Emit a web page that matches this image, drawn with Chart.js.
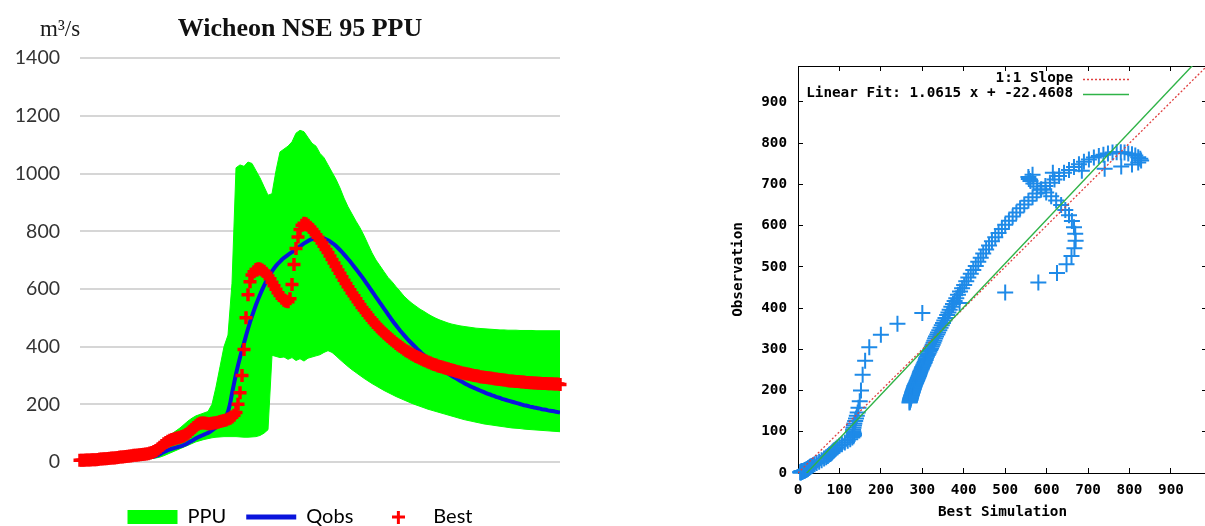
<!DOCTYPE html>
<html>
<head>
<meta charset="utf-8">
<title>Wicheon NSE 95 PPU</title>
<script src="https://cdn.jsdelivr.net/npm/chart.js@4.4.1/dist/chart.umd.min.js"></script>
<style>
    html, body { margin: 0; padding: 0; background: #fff; width: 1205px; height: 526px; overflow: hidden; }
    #hydro { position: absolute; left: 0; top: 0; }
    #scatter { position: absolute; left: 700px; top: 0; }
</style>
</head>
<body>
<canvas id="hydro" width="600" height="537"></canvas>
<canvas id="scatter" width="525" height="526"></canvas>
<script>
// Hydrograph, one value per time step (m3/s)
const bestSim = [
    6, 6, 6, 7, 7, 7, 8, 8, 8, 9,
    10, 10, 11, 11, 12, 13, 14, 14, 15, 16,
    17, 17, 18, 19, 20, 21, 22, 23, 23, 24,
    25, 26, 27, 28, 29, 31, 33, 36, 40, 45,
    51, 57, 63, 68, 72, 75, 78, 80, 82, 84,
    86, 88, 91, 95, 100, 106, 113, 120, 126, 131,
    134, 135, 135, 134, 133, 133, 134, 135, 136, 138,
    140, 142, 144, 146, 149, 152, 156, 162, 172, 200,
    240, 300, 390, 500, 580, 625, 648, 660, 667, 670,
    669, 666, 661, 654, 645, 635, 623, 611, 599, 587,
    577, 568, 561, 557, 556, 566, 615, 685, 740, 780,
    806, 821, 828, 826, 821, 814, 806, 797, 788, 779,
    769, 759, 748, 737, 726, 714, 702, 690, 678, 666,
    654, 642, 630, 619, 608, 597, 586, 576, 566, 556,
    546, 536, 527, 518, 509, 500, 492, 484, 476, 468,
    461, 454, 447, 441, 435, 429, 423, 417, 411, 406,
    401, 396, 391, 386, 382, 378, 374, 370, 366, 363,
    360, 356, 353, 350, 347, 344, 341, 338, 336, 333,
    331, 329, 327, 325, 323, 321, 319, 317, 315, 313,
    311, 309, 308, 306, 305, 303, 302, 300, 299, 298,
    296, 295, 294, 293, 292, 291, 290, 289, 288, 287,
    286, 285, 284, 283, 282, 281, 281, 280, 279, 279,
    278, 277, 277, 276, 276, 275, 275, 274, 274, 273,
    273, 272, 272, 272, 271, 271, 271, 270, 270, 270,
    269
];
const qObs = [
    2, 2, 2, 2, 2, 3, 3, 3, 3, 3,
    3, 4, 4, 4, 4, 5, 5, 5, 6, 6,
    6, 7, 7, 8, 8, 9, 9, 10, 10, 11,
    12, 12, 13, 14, 15, 16, 17, 19, 21, 24,
    27, 31, 35, 38, 41, 44, 46, 48, 50, 52,
    54, 56, 59, 62, 66, 70, 74, 78, 82, 86,
    89, 92, 95, 98, 101, 105, 110, 115, 120, 126,
    132, 139, 147, 158, 174, 200, 238, 272, 305, 335,
    362, 388, 412, 438, 462, 485, 506, 526, 545, 563,
    580, 596, 611, 625, 638, 650, 661, 671, 680, 688,
    695, 702, 708, 713, 718, 723, 728, 733, 738, 743,
    748, 753, 758, 762, 766, 770, 773, 775, 777, 778,
    778, 777, 775, 772, 769, 765, 760, 755, 749, 742,
    735, 728, 720, 712, 704, 696, 687, 678, 669, 660,
    651, 642, 632, 622, 612, 602, 592, 582, 572, 562,
    552, 542, 532, 522, 512, 502, 492, 483, 474, 465,
    456, 448, 440, 432, 424, 417, 410, 403, 396, 389,
    383, 376, 370, 364, 358, 352, 346, 341, 336, 331,
    326, 321, 316, 311, 307, 302, 298, 294, 290, 286,
    282, 278, 274, 270, 267, 263, 260, 257, 254, 251,
    248, 245, 242, 239, 236, 234, 231, 229, 226, 224,
    222, 219, 217, 215, 213, 211, 209, 207, 205, 203,
    201, 199, 197, 196, 194, 192, 191, 189, 188, 186,
    185, 183, 182, 181, 179, 178, 177, 176, 174, 173,
    171
];

// 95PPU band, one value every PPU_STEP time steps
const PPU_STEP = 2;
const ppuUpper = [
    2, 2, 3, 3, 4, 5, 6, 7, 8, 10,
    12, 13, 15, 17, 20, 23, 27, 32, 37, 45,
    60, 72, 85, 98, 108, 118, 130, 142, 152, 160,
    165, 170, 175, 200, 260, 330, 400, 440, 620, 1020,
    1030, 1025, 1040, 1035, 1010, 985, 955, 925, 930, 1010,
    1075, 1085, 1095, 1110, 1140, 1150, 1145, 1125, 1105, 1095,
    1070, 1055, 1030, 1005, 980, 950, 915, 885, 860, 835,
    812, 785, 755, 725, 700, 680, 660, 640, 625, 608,
    592, 575, 562, 550, 540, 530, 522, 513, 505, 498,
    492, 487, 482, 478, 475, 472, 470, 468, 466, 464,
    463, 462, 461, 460, 459, 458, 458, 457, 457, 457,
    456, 456, 456, 456, 455, 455, 455, 455, 455, 455,
    455
];
const ppuLower = [
    1, 1, 1, 2, 2, 2, 3, 3, 3, 4,
    4, 5, 5, 6, 7, 8, 9, 10, 12, 14,
    17, 22, 28, 34, 40, 46, 52, 58, 64, 70,
    74, 78, 81, 84, 86, 87, 88, 88, 88, 88,
    87, 86, 86, 87, 88, 92, 100, 112, 370, 366,
    362, 364, 356, 362, 352, 358, 350, 360, 364, 368,
    372, 380, 386, 380, 368, 355, 343, 331, 320, 310,
    300, 290, 281, 272, 264, 256, 248, 241, 234, 227,
    221, 215, 209, 203, 198, 193, 188, 183, 179, 175,
    171, 167, 163, 159, 155, 151, 147, 144, 141, 138,
    135, 132, 130, 128, 126, 124, 122, 120, 118, 117,
    116, 114, 113, 112, 111, 110, 109, 108, 107, 106,
    105
];

const flowTicks = [0, 200, 400, 600, 800, 1000, 1200, 1400];
const scatterTicks = [0, 100, 200, 300, 400, 500, 600, 700, 800, 900];
const SCATTER_MAX = 987;
const FIT_SLOPE = 1.0615;
const FIT_INTERCEPT = -22.4608;
const UNIT_LABEL = 'm³/s';

const GREEN = '#00ff00', BLUE = '#0a14dc', RED = '#ff0000', SKY = '#1e8ae8';

// small "+" used as the legend symbol for Best
function plusIcon(size, width, color) {
    const c = document.createElement('canvas');
    c.width = c.height = size;
    const g = c.getContext('2d');
    g.strokeStyle = color;
    g.lineWidth = width;
    g.beginPath();
    g.moveTo(0, size / 2); g.lineTo(size, size / 2);
    g.moveTo(size / 2, 0); g.lineTo(size / 2, size);
    g.stroke();
    return c;
}

const unitLabel = {
    id: 'unitLabel',
    afterDraw(chart) {
        const ctx = chart.ctx;
        ctx.save();
        ctx.font = '23px "Liberation Serif", serif';
        ctx.fillStyle = '#1a1a1a';
        ctx.textBaseline = 'middle';
        ctx.fillText(UNIT_LABEL, 40, 30);
        ctx.restore();
    }
};

const asPoints = (arr, step) => arr.map((v, i) => ({ x: i * step, y: v }));
const plainTick = v => String(v);

new Chart(document.getElementById('hydro'), {
    type: 'line',
    data: {
        datasets: [
            { label: 'PPU lower', data: asPoints(ppuLower, PPU_STEP), yAxisID: 'y', borderColor: GREEN, borderWidth: 1, pointRadius: 0, fill: false, order: 3 },
            { label: 'PPU', data: asPoints(ppuUpper, PPU_STEP), yAxisID: 'y', borderColor: GREEN, backgroundColor: GREEN, borderWidth: 1, pointRadius: 0, fill: '-1', order: 2 },
            { label: 'Qobs', data: asPoints(qObs, 1), yAxisID: 'y', borderColor: BLUE, borderWidth: 4, pointRadius: 0, fill: false, order: 1 },
            { label: 'Best', data: asPoints(bestSim, 1), yAxisID: 'y', showLine: false, pointStyle: 'cross', pointRadius: 6.5, pointBorderWidth: 3.5, pointBorderColor: RED, pointBackgroundColor: RED, order: 0, clip: 10 }
        ]
    },
    options: {
        responsive: false, animation: false, devicePixelRatio: 1, events: [],
        scales: {
            x: {
                type: 'linear', min: 0, max: qObs.length - 1,
                ticks: { display: false }, grid: { display: false }, border: { display: false },
                afterFit: s => { s.height = 25; }
            },
            y: {
                min: 0, max: 1400,
                afterBuildTicks: s => { s.ticks = flowTicks.map(v => ({ value: v })); },
                ticks: { callback: plainTick, color: '#333', font: { family: 'Lato', size: 19.5 }, padding: 20 },
                grid: { color: '#d6d6d6', lineWidth: 2, drawTicks: false },
                border: { display: false },
                afterFit: s => { s.width = 80; }
            },
            y2: {
                position: 'right',
                ticks: { display: false }, grid: { display: false }, border: { display: false },
                afterFit: s => { s.width = 40; }
            }
        },
        plugins: {
            title: {
                display: true, text: 'Wicheon NSE 95 PPU', color: '#111',
                font: { family: '"Liberation Serif", serif', size: 26, weight: 'bold' },
                padding: { top: 14, bottom: 13 }
            },
            legend: {
                position: 'bottom',
                labels: {
                    usePointStyle: true, pointStyleWidth: 50, boxHeight: 14, padding: 20,
                    color: '#404040', font: { family: 'Lato', size: 20 },
                    generateLabels: () => [
                        { text: 'PPU', pointStyle: 'rect', fillStyle: GREEN, strokeStyle: GREEN, lineWidth: 0, datasetIndex: 1 },
                        { text: 'Qobs', pointStyle: 'line', fillStyle: BLUE, strokeStyle: BLUE, lineWidth: 5, datasetIndex: 2 },
                        { text: 'Best', pointStyle: plusIcon(13, 3, RED), fillStyle: RED, strokeStyle: RED, lineWidth: 0, datasetIndex: 3 }
                    ]
                }
            },
            tooltip: { enabled: false }
        }
    },
    plugins: [unitLabel]
});

// gnuplot style key: text right aligned, sample line to its right
const keyRows = [0, 1];
const gnuplotKey = {
    id: 'gnuplotKey',
    afterDatasetsDraw(chart) {
        const { ctx, chartArea } = chart;
        ctx.save();
        ctx.font = 'bold 14.3px "DejaVu Sans Mono", monospace';
        ctx.textAlign = 'right';
        ctx.textBaseline = 'middle';
        ctx.fillStyle = '#000';
        keyRows.forEach((idx, row) => {
            const ds = chart.data.datasets[idx];
            const y = chartArea.top + 12.5 + row * 15;
            const tx = chartArea.right - 134;
            ctx.fillText(ds.label, tx, y);
            ctx.strokeStyle = ds.borderColor;
            ctx.lineWidth = ds.borderWidth;
            ctx.setLineDash(ds.borderDash || []);
            ctx.beginPath();
            ctx.moveTo(tx + 10, Math.round(y) + 0.5);
            ctx.lineTo(tx + 56, Math.round(y) + 0.5);
            ctx.stroke();
        });
        ctx.restore();
    }
};

const monoFont = { family: '"DejaVu Sans Mono", monospace', size: 14.3, weight: 'bold' };
const frameGrid = { drawOnChartArea: false, tickLength: -5, color: '#000', lineWidth: 1 };
const frameBorder = { color: '#000', width: 1 };
const useScatterTicks = s => { s.ticks = scatterTicks.map(v => ({ value: v })); };

new Chart(document.getElementById('scatter'), {
    type: 'scatter',
    data: {
        datasets: [
            { label: '1:1 Slope', data: [{ x: 0, y: 0 }, { x: SCATTER_MAX, y: SCATTER_MAX }], xAxisID: 'x', yAxisID: 'y',
              showLine: true, borderColor: '#e04040', borderWidth: 1.3, borderDash: [2, 2], pointRadius: 0, order: 1 },
            { label: `Linear Fit: ${FIT_SLOPE} x + ${FIT_INTERCEPT}`, xAxisID: 'x', yAxisID: 'y',
              data: [{ x: 0, y: FIT_INTERCEPT }, { x: SCATTER_MAX, y: FIT_SLOPE * SCATTER_MAX + FIT_INTERCEPT }],
              showLine: true, borderColor: '#2fb347', borderWidth: 1.4, pointRadius: 0, order: 0 },
            { label: 'Best vs Obs', data: bestSim.map((b, i) => ({ x: b, y: qObs[i] })), xAxisID: 'x', yAxisID: 'y',
              pointStyle: 'cross', pointRadius: 8, pointBorderWidth: 2, pointBorderColor: SKY, pointBackgroundColor: SKY, order: 2, clip: 10 }
        ]
    },
    options: {
        responsive: false, animation: false, devicePixelRatio: 1, events: [],
        layout: { padding: { top: 66, right: 18, left: 0, bottom: 0 } },
        scales: {
            x: {
                type: 'linear', position: 'bottom', min: 0, max: SCATTER_MAX,
                afterBuildTicks: useScatterTicks,
                ticks: { callback: plainTick, font: monoFont, color: '#000', padding: 14, maxRotation: 0, autoSkip: false },
                grid: frameGrid, border: frameBorder,
                title: { display: true, text: 'Best Simulation', font: monoFont, color: '#000', padding: { top: 0, bottom: 5 } },
                afterFit: s => { s.height = 53; }
            },
            y: {
                type: 'linear', position: 'left', min: 0, max: SCATTER_MAX,
                afterBuildTicks: useScatterTicks,
                ticks: { callback: plainTick, font: monoFont, color: '#000', padding: 16, autoSkip: false },
                grid: frameGrid, border: frameBorder,
                title: { display: true, text: 'Observation', font: monoFont, color: '#000', padding: { top: 30, bottom: 0 } },
                afterFit: s => { s.width = 98; }
            },
            x2: {
                type: 'linear', position: 'top', min: 0, max: SCATTER_MAX,
                afterBuildTicks: useScatterTicks,
                ticks: { display: false }, grid: frameGrid, border: frameBorder,
                afterFit: s => { s.height = 0; }
            },
            y2: {
                type: 'linear', position: 'right', min: 0, max: SCATTER_MAX,
                afterBuildTicks: useScatterTicks,
                ticks: { display: false }, grid: frameGrid, border: frameBorder,
                afterFit: s => { s.width = 0; }
            }
        },
        plugins: { legend: { display: false }, tooltip: { enabled: false } }
    },
    plugins: [gnuplotKey]
});
</script>
</body>
</html>
